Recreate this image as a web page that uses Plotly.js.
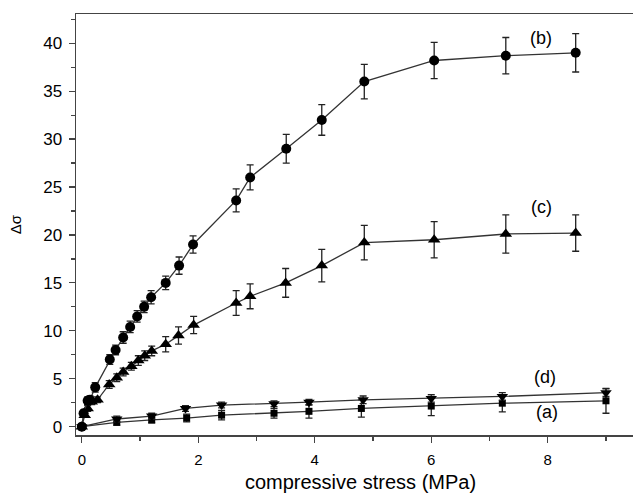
<!DOCTYPE html>
<html><head><meta charset="utf-8">
<script src="https://cdn.plot.ly/plotly-3.0.1.min.js"></script>
<style>html,body{margin:0;padding:0;background:#fff;overflow:hidden}#wrap{width:633px;height:498px;overflow:hidden}#chart{width:645px;height:498px}</style>
</head><body><div id="wrap"><div id="chart"></div></div>
<script>
const b_x = [0, 0.03, 0.1, 0.14, 0.23, 0.48, 0.58, 0.71, 0.83, 0.95, 1.07, 1.19, 1.44, 1.67, 1.91, 2.65, 2.89, 3.51, 4.12, 4.85, 6.05, 7.28, 8.48];
const b_y = [0, 1.4, 2.7, 2.8, 4.1, 7.0, 8.0, 9.3, 10.4, 11.5, 12.5, 13.5, 15.0, 16.8, 19.0, 23.6, 26.0, 29.0, 32.0, 36.0, 38.2, 38.7, 39.0];
const b_err = [0.1, 0.3, 0.4, 0.4, 0.5, 0.5, 0.5, 0.6, 0.6, 0.6, 0.6, 0.7, 0.7, 0.9, 0.9, 1.2, 1.3, 1.5, 1.6, 1.8, 1.9, 1.9, 2.0];

const c_x = [0, 0.05, 0.1, 0.17, 0.27, 0.47, 0.6, 0.71, 0.85, 0.97, 1.08, 1.2, 1.44, 1.66, 1.92, 2.65, 2.89, 3.5, 4.12, 4.85, 6.05, 7.28, 8.48];
const c_y = [0, 1.2, 1.9, 2.6, 2.8, 4.4, 5.1, 5.7, 6.3, 6.9, 7.4, 7.9, 8.6, 9.5, 10.6, 12.9, 13.6, 15.0, 16.8, 19.2, 19.5, 20.1, 20.2];
const c_err = [0.1, 0.2, 0.3, 0.3, 0.3, 0.4, 0.4, 0.4, 0.4, 0.5, 0.5, 0.5, 0.8, 0.9, 0.9, 1.3, 1.3, 1.5, 1.7, 1.8, 1.9, 2.0, 1.9];

const a_x = [0, 0.6, 1.2, 1.8, 2.4, 3.3, 3.9, 4.8, 6.0, 7.22, 9.0];
const a_y = [0, 0.45, 0.7, 0.9, 1.2, 1.4, 1.6, 1.9, 2.15, 2.45, 2.7];
const a_err = [0.1, 0.3, 0.3, 0.4, 0.5, 0.5, 0.7, 0.9, 1.0, 0.9, 1.3];

const d_x = [0, 0.6, 1.2, 1.78, 2.4, 3.3, 3.9, 4.83, 6.0, 7.22, 9.0];
const d_y = [0, 0.8, 1.1, 1.9, 2.25, 2.4, 2.55, 2.8, 2.95, 3.15, 3.55];
const d_err = [0.1, 0.3, 0.3, 0.3, 0.3, 0.3, 0.3, 0.4, 0.4, 0.4, 0.4];

const series_labels = ['(a)', '(b)', '(c)', '(d)'];
const label_x = [7.99, 7.88, 7.9, 7.96];
const label_y = [1.5, 40.55, 22.9, 5.2];

const FONT = 'Liberation Sans, Arial, sans-serif';

function trace(x, y, e, sym, size) {
  return {
    x: x, y: y, type: 'scatter', mode: 'lines+markers',
    line: {color: '#333', width: 1.3},
    marker: {symbol: sym, size: size, color: '#000'},
    error_y: {type: 'data', array: e, visible: true, color: '#222', thickness: 1.3, width: 3.5},
    showlegend: false, cliponaxis: false
  };
}

const data = [
  trace(a_x, a_y, a_err, 'square', 7),
  trace(d_x, d_y, d_err, 'triangle-down', 10),
  trace(c_x, c_y, c_err, 'triangle-up', 11),
  trace(b_x, b_y, b_err, 'circle', 10)
];

const annotations = series_labels.map((t, i) => ({
  x: label_x[i], y: label_y[i], xref: 'x', yref: 'y', text: t, showarrow: false,
  font: {family: FONT, size: 18, color: '#000'}
}));

const layout = {
  width: 645, height: 498,
  margin: {l: 76, r: 0, t: 14, b: 63},
  paper_bgcolor: '#fff', plot_bgcolor: '#fff',
  font: {family: FONT, color: '#000'},
  xaxis: {
    range: [-0.1, 9.67], showgrid: false, zeroline: false,
    showline: true, linecolor: '#444', linewidth: 1.5, mirror: true,
    ticks: 'outside', ticklen: 6, tickwidth: 1.2, tickcolor: '#444',
    tickvals: [0, 2, 4, 6, 8], ticktext: ['0', '2', '4', '6', '8'],
    minor: {tickvals: [1, 3, 5, 7, 9], ticks: 'outside', ticklen: 4, tickcolor: '#444', showgrid: false},
    tickfont: {size: 15}, ticklabelstandoff: 4,
    title: {text: 'compressive stress (MPa)', font: {size: 20}, standoff: 8}
  },
  yaxis: {
    range: [-0.87, 43.05], showgrid: false, zeroline: false,
    showline: true, linecolor: '#444', linewidth: 1.5,
    ticks: 'outside', ticklen: 6, tickwidth: 1.2, tickcolor: '#444',
    tickvals: [0, 5, 10, 15, 20, 25, 30, 35, 40],
    ticktext: ['0', '5', '10', '15', '20', '25', '30', '35', '40'],
    minor: {tickvals: [2.5, 7.5, 12.5, 17.5, 22.5, 27.5, 32.5, 37.5, 42.5], ticks: 'outside', ticklen: 4, tickcolor: '#444', showgrid: false},
    tickfont: {size: 17}, ticklabelstandoff: 3,
    title: {text: 'Δσ', font: {size: 15}, standoff: 18}
  },
  annotations: annotations
};

Plotly.newPlot('chart', data, layout, {displayModeBar: false, staticPlot: true});
</script></body></html>
